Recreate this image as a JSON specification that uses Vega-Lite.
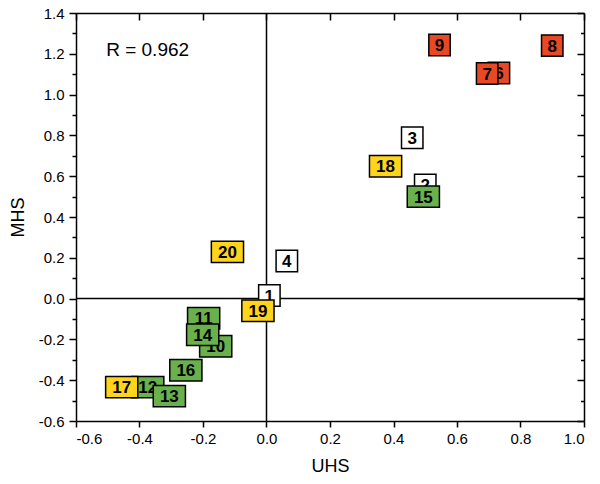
{
  "$schema": "https://vega.github.io/schema/vega-lite/v6.json",
  "width": 508,
  "height": 408,
  "autosize": {"type": "none"},
  "padding": {"left": 76, "top": 13, "right": 16, "bottom": 63},
  "background": "white",
  "config": {
    "view": {"stroke": null},
    "axis": {
      "grid": false,
      "domainColor": "black",
      "domainWidth": 1.5,
      "tickColor": "black",
      "tickWidth": 1.5,
      "labelFont": "Liberation Sans",
      "labelFontSize": 15,
      "labelColor": "black",
      "titleFont": "Liberation Sans",
      "titleFontSize": 18,
      "titleFontWeight": "normal",
      "titleColor": "black"
    }
  },
  "datasets": {
    "points": [
      {"id": 1, "uhs": 0.009, "mhs": 0.015, "group": "A"},
      {"id": 2, "uhs": 0.50, "mhs": 0.557, "group": "A"},
      {"id": 3, "uhs": 0.459, "mhs": 0.788, "group": "A"},
      {"id": 4, "uhs": 0.064, "mhs": 0.184, "group": "A"},
      {"id": 6, "uhs": 0.732, "mhs": 1.106, "group": "B"},
      {"id": 7, "uhs": 0.695, "mhs": 1.103, "group": "B"},
      {"id": 8, "uhs": 0.900, "mhs": 1.240, "group": "B"},
      {"id": 9, "uhs": 0.545, "mhs": 1.243, "group": "B"},
      {"id": 10, "uhs": -0.160, "mhs": -0.234, "group": "C"},
      {"id": 11, "uhs": -0.198, "mhs": -0.096, "group": "C"},
      {"id": 12, "uhs": -0.374, "mhs": -0.434, "group": "C"},
      {"id": 13, "uhs": -0.306, "mhs": -0.478, "group": "C"},
      {"id": 14, "uhs": -0.201, "mhs": -0.177, "group": "C"},
      {"id": 15, "uhs": 0.494, "mhs": 0.500, "group": "C"},
      {"id": 16, "uhs": -0.254, "mhs": -0.351, "group": "C"},
      {"id": 17, "uhs": -0.456, "mhs": -0.434, "group": "D"},
      {"id": 18, "uhs": 0.375, "mhs": 0.649, "group": "D"},
      {"id": 19, "uhs": -0.027, "mhs": -0.060, "group": "D"},
      {"id": 20, "uhs": -0.123, "mhs": 0.229, "group": "D"}
    ],
    "single": [{"label": "R = 0.962"}]
  },
  "data": {"name": "points"},
  "resolve": {"axis": {"x": "independent", "y": "independent"}},
  "layer": [
    {
      "data": {"name": "single"},
      "mark": {"type": "rule", "color": "black", "strokeWidth": 1.5},
      "encoding": {
        "x": {
          "datum": 0,
          "type": "quantitative",
          "scale": {"domain": [-0.6, 1.0], "nice": false, "zero": false},
          "axis": {
            "orient": "top",
            "values": [-0.6, -0.4, -0.2, 0, 0.2, 0.4, 0.6, 0.8, 1.0],
            "labels": false,
            "title": null,
            "tickSize": -7
          }
        }
      }
    },
    {
      "data": {"name": "single"},
      "mark": {"type": "rule", "color": "black", "strokeWidth": 1.5},
      "encoding": {
        "y": {
          "datum": 0,
          "type": "quantitative",
          "scale": {"domain": [-0.6, 1.4], "nice": false, "zero": false},
          "axis": {
            "orient": "right",
            "values": [-0.6, -0.5, -0.4, -0.3, -0.2, -0.1, 0, 0.1, 0.2, 0.3, 0.4, 0.5, 0.6, 0.7, 0.8, 0.9, 1.0, 1.1, 1.2, 1.3, 1.4],
            "labels": false,
            "title": null,
            "tickSize": {"condition": {"test": "abs(datum.value*5 - round(datum.value*5)) < 0.001", "value": -7}, "value": -3.5}
          }
        }
      }
    },
    {
      "transform": [{"filter": "indexof([1, 2, 6, 10, 11, 12], datum.id) >= 0"}],
      "mark": {"type": "point", "filled": true, "stroke": "black", "strokeWidth": 1.5, "opacity": 1},
      "encoding": {
        "x": {
          "field": "uhs",
          "type": "quantitative",
          "scale": {"domain": [-0.6, 1.0], "nice": false, "zero": false},
          "axis": {
            "orient": "bottom",
            "values": [-0.6, -0.4, -0.2, 0, 0.2, 0.4, 0.6, 0.8, 1.0],
            "labelExpr": "replace(format(datum.value, '.1f'), '\u2212', '-')",
            "tickSize": 6,
            "labelPadding": 4,
            "title": "UHS",
            "titlePadding": 11
          }
        },
        "y": {
          "field": "mhs",
          "type": "quantitative",
          "scale": {"domain": [-0.6, 1.4], "nice": false, "zero": false},
          "axis": {
            "orient": "left",
            "values": [-0.6, -0.5, -0.4, -0.3, -0.2, -0.1, 0, 0.1, 0.2, 0.3, 0.4, 0.5, 0.6, 0.7, 0.8, 0.9, 1.0, 1.1, 1.2, 1.3, 1.4],
            "labelExpr": "abs(datum.value*5 - round(datum.value*5)) < 0.001 ? replace(format(datum.value, '.1f'), '\u2212', '-') : ''",
            "tickSize": {"condition": {"test": "abs(datum.value*5 - round(datum.value*5)) < 0.001", "value": 7}, "value": 4},
            "labelPadding": 5,
            "title": "MHS",
            "titlePadding": 11
          }
        },
        "fill": {
          "field": "group",
          "type": "nominal",
          "scale": {"domain": ["A", "B", "C", "D"], "range": ["#ffffff", "#e84824", "#6ab04c", "#ffd41c"]},
          "legend": null
        },
        "shape": {
          "condition": {"test": "datum.id >= 10", "value": "M-1.5,-1H1.5V1H-1.5Z"},
          "value": "M-1,-1H1V1H-1Z"
        },
        "size": {"value": 460}
      }
    },
    {
      "transform": [{"filter": "indexof([1, 2, 6, 10, 11, 12], datum.id) >= 0"}],
      "mark": {"type": "text", "font": "Liberation Sans", "fontSize": 17, "fontWeight": "bold", "color": "black", "align": "center", "baseline": "middle", "dy": 1},
      "encoding": {
        "x": {"field": "uhs", "type": "quantitative", "axis": null},
        "y": {"field": "mhs", "type": "quantitative", "axis": null},
        "text": {"field": "id", "type": "nominal"}
      }
    },
    {
      "transform": [{"filter": "indexof([1, 2, 6, 10, 11, 12], datum.id) < 0"}],
      "mark": {"type": "point", "filled": true, "stroke": "black", "strokeWidth": 1.5, "opacity": 1},
      "encoding": {
        "x": {"field": "uhs", "type": "quantitative", "axis": null},
        "y": {"field": "mhs", "type": "quantitative", "axis": null},
        "fill": {
          "field": "group",
          "type": "nominal",
          "scale": {"domain": ["A", "B", "C", "D"], "range": ["#ffffff", "#e84824", "#6ab04c", "#ffd41c"]},
          "legend": null
        },
        "shape": {
          "condition": {"test": "datum.id >= 10", "value": "M-1.5,-1H1.5V1H-1.5Z"},
          "value": "M-1,-1H1V1H-1Z"
        },
        "size": {"value": 460}
      }
    },
    {
      "transform": [{"filter": "indexof([1, 2, 6, 10, 11, 12], datum.id) < 0"}],
      "mark": {"type": "text", "font": "Liberation Sans", "fontSize": 17, "fontWeight": "bold", "color": "black", "align": "center", "baseline": "middle", "dy": 1},
      "encoding": {
        "x": {"field": "uhs", "type": "quantitative", "axis": null},
        "y": {"field": "mhs", "type": "quantitative", "axis": null},
        "text": {"field": "id", "type": "nominal"}
      }
    },
    {
      "data": {"name": "single"},
      "mark": {"type": "text", "font": "Liberation Sans", "fontSize": 19, "color": "black", "align": "left", "baseline": "middle"},
      "encoding": {
        "x": {"datum": -0.505, "type": "quantitative", "axis": null},
        "y": {"datum": 1.22, "type": "quantitative", "axis": null},
        "text": {"field": "label", "type": "nominal"}
      }
    }
  ]
}
